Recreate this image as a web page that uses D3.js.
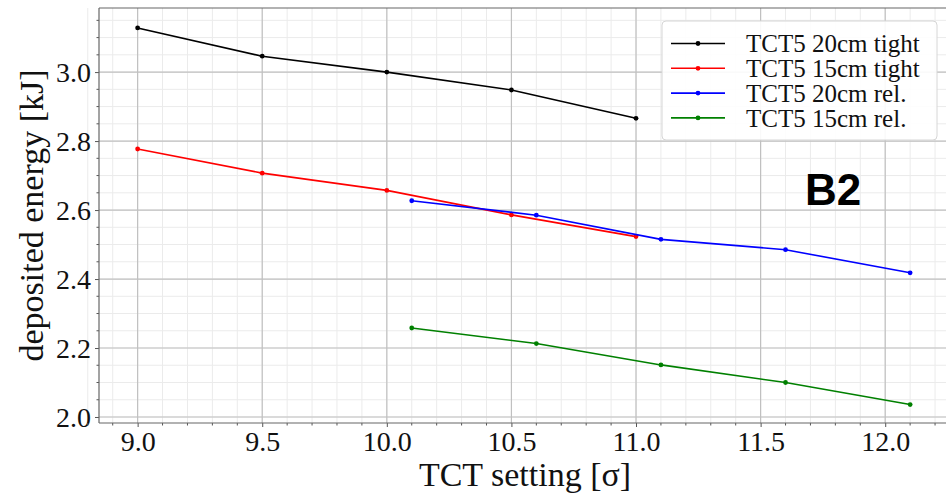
<!DOCTYPE html>
<html>
<head>
<meta charset="utf-8">
<script src="https://cdn.jsdelivr.net/npm/d3@7"></script>
<style>
  body { margin: 0; background: #fff; }
  svg { display: block; }
</style>
</head>
<body>
<div id="chart"></div>
<script>
const width = 946, height = 494,
  margin = { top: 8, bottom: 71, left: 99, right: -4 };

// data
const xTight = [9.0, 9.5, 10.0, 10.5, 11.0];
const xRel = [10.1, 10.6, 11.1, 11.6, 12.1];
const tct20Tight = [3.128, 3.046, 3.000, 2.948, 2.866];
const tct15Tight = [2.777, 2.707, 2.657, 2.586, 2.523];
const tct20Rel = [2.627, 2.585, 2.515, 2.485, 2.418];
const tct15Rel = [2.258, 2.213, 2.151, 2.100, 2.036];
const xTicks = [9.0, 9.5, 10.0, 10.5, 11.0, 11.5, 12.0];
const yTicks = [2.0, 2.2, 2.4, 2.6, 2.8, 3.0];

const series = [
  { name: "TCT5 20cm tight", color: "#000000", x: xTight, y: tct20Tight },
  { name: "TCT5 15cm tight", color: "#ff0000", x: xTight, y: tct15Tight },
  { name: "TCT5 20cm rel.", color: "#0000ff", x: xRel, y: tct20Rel },
  { name: "TCT5 15cm rel.", color: "#008000", x: xRel, y: tct15Rel }
];

const svg = d3.select("#chart")
  .append("svg")
  .attr("width", width)
  .attr("height", height);

const xScale = d3.scaleLinear()
  .domain([8.845, 12.26])
  .range([margin.left, width - margin.right]);

const yScale = d3.scaleLinear()
  .domain([1.9826, 3.1858])
  .range([height - margin.bottom, margin.top]);

const x0 = margin.left, x1 = width - margin.right;
const y0 = height - margin.bottom, y1 = margin.top;

// minor grid
const xMinor = d3.range(88, 123).map(d => d / 10);
const yMinor = d3.range(40, 64).map(d => d / 20);

svg.append("g")
  .selectAll("line")
  .data(xMinor)
  .join("line")
  .attr("x1", d => xScale(d)).attr("x2", d => xScale(d))
  .attr("y1", y1).attr("y2", y0)
  .attr("stroke", "#ebebeb").attr("stroke-width", 1);

svg.append("g")
  .selectAll("line")
  .data(yMinor)
  .join("line")
  .attr("x1", x0).attr("x2", x1)
  .attr("y1", d => yScale(d)).attr("y2", d => yScale(d))
  .attr("stroke", "#ebebeb").attr("stroke-width", 1);

// major grid
svg.append("g")
  .selectAll("line")
  .data(xTicks)
  .join("line")
  .attr("x1", d => xScale(d)).attr("x2", d => xScale(d))
  .attr("y1", y1).attr("y2", y0)
  .attr("stroke", "#c0c0c0").attr("stroke-width", 1.2);

svg.append("g")
  .selectAll("line")
  .data(yTicks)
  .join("line")
  .attr("x1", x0).attr("x2", x1)
  .attr("y1", d => yScale(d)).attr("y2", d => yScale(d))
  .attr("stroke", "#c0c0c0").attr("stroke-width", 1.2);

// axes
const xAxis = d3.axisBottom(xScale)
  .tickValues(xTicks)
  .tickFormat(d3.format(".1f"))
  .tickSize(4);

const yAxis = d3.axisLeft(yScale)
  .tickValues(yTicks)
  .tickFormat(d3.format(".1f"))
  .tickSize(4)
  .tickPadding(4);

const gx = svg.append("g")
  .attr("transform", `translate(0,${y0})`)
  .call(xAxis);

const gy = svg.append("g")
  .attr("transform", `translate(${x0},0)`)
  .call(yAxis);

[gx, gy].forEach(g => {
  g.select(".domain").remove();
  g.selectAll("line").attr("stroke", "#555");
  g.selectAll("text")
    .attr("fill", "#111")
    .style("font-family", "'Liberation Serif', 'DejaVu Serif', serif")
    .style("font-size", "28px");
});
gx.selectAll("text").attr("y", 28).attr("dy", null);
gy.selectAll("text").attr("dy", "0.34em");

// minor ticks
svg.append("g")
  .selectAll("line")
  .data(xMinor.filter(d => !xTicks.some(t => Math.abs(t - d) < 1e-6)))
  .join("line")
  .attr("x1", d => xScale(d)).attr("x2", d => xScale(d))
  .attr("y1", y0).attr("y2", y0 + 2.5)
  .attr("stroke", "#555");

svg.append("g")
  .selectAll("line")
  .data(yMinor.filter(d => !yTicks.some(t => Math.abs(t - d) < 1e-6)))
  .join("line")
  .attr("x1", x0).attr("x2", x0 - 2.5)
  .attr("y1", d => yScale(d)).attr("y2", d => yScale(d))
  .attr("stroke", "#555");

// spines
svg.append("line")
  .attr("x1", x0).attr("x2", x0).attr("y1", y1).attr("y2", y0)
  .attr("stroke", "#666").attr("stroke-width", 1.2);
svg.append("line")
  .attr("x1", x0).attr("x2", x1).attr("y1", y0).attr("y2", y0)
  .attr("stroke", "#666").attr("stroke-width", 1.2);
svg.append("line")
  .attr("x1", x0).attr("x2", x1).attr("y1", y1).attr("y2", y1)
  .attr("stroke", "#666").attr("stroke-width", 1.2);

// lines
const line = d3.line()
  .x(d => xScale(d[0]))
  .y(d => yScale(d[1]));

series.forEach(s => {
  const pts = s.x.map((x, i) => [x, s.y[i]]);
  svg.append("path")
    .datum(pts)
    .attr("fill", "none")
    .attr("stroke", s.color)
    .attr("stroke-width", 1.6)
    .attr("d", line);
  svg.append("g")
    .selectAll("circle")
    .data(pts)
    .join("circle")
    .attr("cx", d => xScale(d[0]))
    .attr("cy", d => yScale(d[1]))
    .attr("r", 2.4)
    .attr("fill", s.color);
});

// axis labels
svg.append("text")
  .attr("x", 525)
  .attr("y", 486)
  .attr("text-anchor", "middle")
  .style("font-family", "'Liberation Serif', 'DejaVu Serif', serif")
  .style("font-size", "34px")
  .attr("fill", "#111")
  .text("TCT setting [σ]");

svg.append("text")
  .attr("transform", `translate(43,${(y0 + y1) / 2}) rotate(-90)`)
  .attr("text-anchor", "middle")
  .style("font-family", "'Liberation Serif', 'DejaVu Serif', serif")
  .style("font-size", "34px")
  .attr("fill", "#111")
  .text("deposited energy [kJ]");

// legend
const legend = svg.append("g");
legend.append("rect")
  .attr("x", 662).attr("y", 21)
  .attr("width", 275).attr("height", 119)
  .attr("rx", 4)
  .attr("fill", "#fff")
  .attr("fill-opacity", 0.9)
  .attr("stroke", "#d6d6d6");

const rows = legend.selectAll("g.row")
  .data(series)
  .join("g")
  .attr("class", "row")
  .attr("transform", (d, i) => `translate(0,${43.5 + i * 24.8})`);

rows.append("line")
  .attr("x1", 671).attr("x2", 725)
  .attr("stroke", d => d.color)
  .attr("stroke-width", 1.6);
rows.append("circle")
  .attr("cx", 698).attr("r", 2.4)
  .attr("fill", d => d.color);
rows.append("text")
  .attr("x", 746)
  .attr("dy", "0.35em")
  .style("font-family", "'Liberation Serif', 'DejaVu Serif', serif")
  .style("font-size", "25px")
  .attr("fill", "#111")
  .text(d => d.name);

// panel tag
svg.append("text")
  .attr("x", 805)
  .attr("y", 205)
  .style("font-family", "'Liberation Sans', Arial, sans-serif")
  .style("font-weight", "bold")
  .style("font-size", "44px")
  .attr("fill", "#000")
  .text("B2");
</script>
</body>
</html>
